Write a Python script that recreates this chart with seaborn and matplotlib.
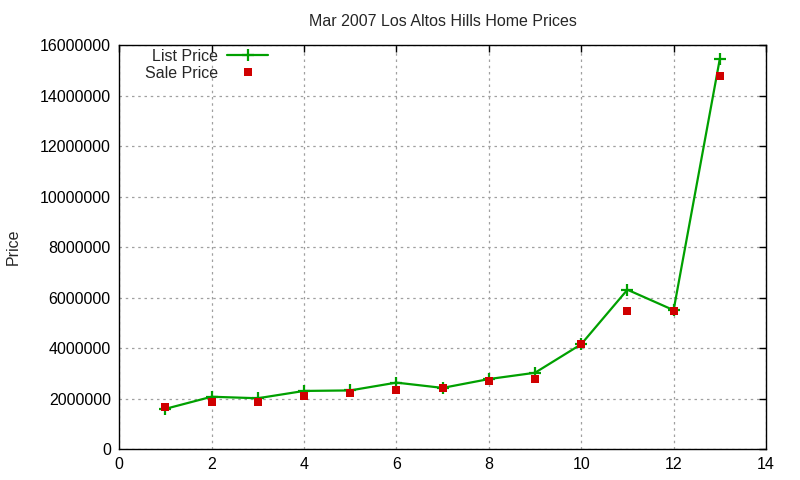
import numpy as np
import pandas as pd
import matplotlib
matplotlib.use("Agg")
import matplotlib.pyplot as plt
import seaborn as sns
from matplotlib.lines import Line2D
from matplotlib.ticker import MultipleLocator, FormatStrFormatter

# home index (x) and prices
home_index = [1, 2, 3, 4, 5, 6, 7, 8, 9, 10, 11, 12, 13]
list_price = [1590000, 2070000, 2010000, 2300000, 2320000, 2630000, 2420000,
              2770000, 3020000, 4150000, 6310000, 5500000, 15450000]
sale_price = [1670000, 1880000, 1880000, 2110000, 2230000, 2350000, 2430000,
              2710000, 2790000, 4170000, 5470000, 5470000, 14780000]

LIST_COLOR = "#00a000"
SALE_COLOR = "#d00000"

sns.set_style("white")
plt.rcParams["font.family"] = ["Liberation Sans", "DejaVu Sans"]
plt.rcParams["font.size"] = 11.5

df = pd.DataFrame({"x": home_index, "list": list_price, "sale": sale_price})

fig = plt.figure(figsize=(8, 4.8), dpi=100)
ax = fig.add_axes([0.149, 0.0646, 0.8085, 0.8414])

sns.lineplot(data=df, x="x", y="list", ax=ax, color=LIST_COLOR, linewidth=1.6,
             marker="+", markersize=9, markeredgewidth=1.6,
             markeredgecolor=LIST_COLOR, dashes=False, legend=False)
sns.scatterplot(data=df, x="x", y="sale", ax=ax, color=SALE_COLOR, marker="s",
                s=40, linewidth=0, legend=False, zorder=3)

ax.set_xlim(0, 14)
ax.set_ylim(0, 16000000)
ax.xaxis.set_major_locator(MultipleLocator(2))
ax.yaxis.set_major_locator(MultipleLocator(2000000))
ax.yaxis.set_major_formatter(FormatStrFormatter("%d"))
ax.tick_params(direction="in", length=5, width=1, top=True, right=True,
               labelsize=11.5, colors="black", pad=6)
ax.grid(True, color="#a0a0a0", linestyle=(0, (2, 3)), linewidth=0.9)
for s in ax.spines.values():
    s.set_color("black")
    s.set_linewidth(1)

ax.set_xlabel("")
ax.set_ylabel("Price", fontsize=11.5, labelpad=14)
ax.set_title("Mar 2007 Los Altos Hills Home Prices", fontsize=11.5, pad=14)

handles = [
    Line2D([], [], color=LIST_COLOR, linewidth=1.6, marker="+", markersize=9,
           markeredgewidth=1.6),
    Line2D([], [], color=SALE_COLOR, linestyle="none", marker="s", markersize=6,
           markeredgewidth=0),
]
ax.legend(handles, ["List Price", "Sale Price"], loc="upper left",
          bbox_to_anchor=(0.03, 1.007), frameon=False, markerfirst=False,
          handlelength=2.6, handletextpad=0.55, labelspacing=0.12,
          borderaxespad=0.0, fontsize=11.5)

fig.savefig("out.png", dpi=100)
